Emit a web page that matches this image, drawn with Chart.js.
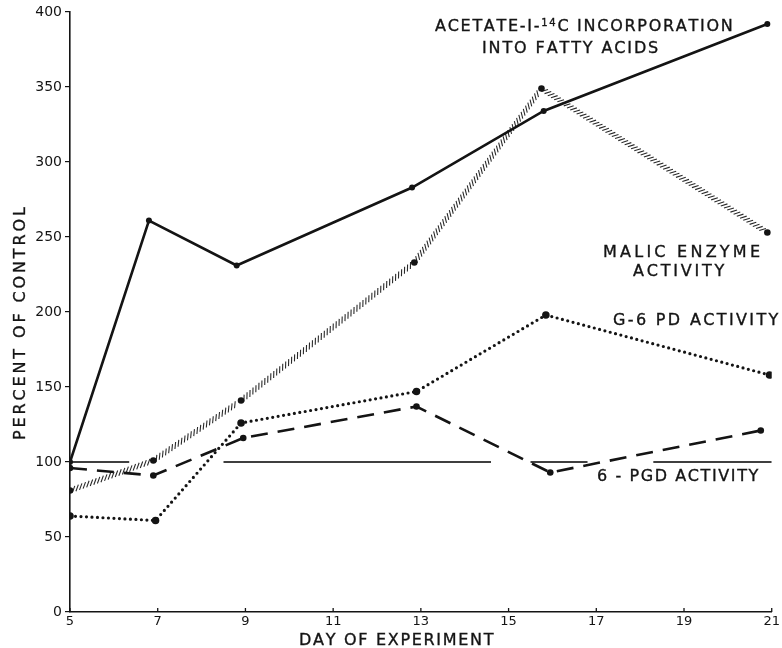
<!DOCTYPE html>
<html>
<head>
<meta charset="utf-8">
<script src="https://cdn.jsdelivr.net/npm/chart.js@4/dist/chart.umd.min.js"></script>
<style>
  html, body { margin: 0; padding: 0; background: #fff; }
  #wrap { width: 782px; height: 648px; }
</style>
</head>
<body>
<div id="wrap"><canvas id="chart" width="782" height="648"></canvas></div>
<script>
// Axis ticks
const dayTicks = [5, 7, 9, 11, 13, 15, 17, 19, 21];
const percentTicks = [0, 50, 100, 150, 200, 250, 300, 350, 400];

// Acetate-1-14C incorporation into fatty acids (solid line)
const acetateDays = [5, 6.8, 8.8, 12.8, 15.8, 20.9];
const acetateValues = [100, 261, 231, 283, 334, 392];

// Malic enzyme activity (hatched line)
const malicDays = [5, 6.9, 8.9, 12.85, 15.75, 20.9];
const malicValues = [81, 101, 141, 233, 349, 253];

// G-6 PD activity (dotted line)
const g6pdDays = [5, 6.95, 8.9, 12.9, 15.85, 20.95];
const g6pdValues = [64, 61, 126, 147, 198, 158];

// 6-PGD activity (dashed line)
const pgdDays = [5, 6.9, 8.95, 12.9, 15.95, 20.75];
const pgdValues = [96, 91, 116, 137, 93, 121];

// Control level (100 %), drawn as a broken reference line
const controlLevel = 100;
const controlStarts = [5, 8.5, 15.5, 18.3];
const controlEnds = [6.35, 14.6, 16.8, 21];

const FONT = '"DejaVu Sans", "Liberation Sans", sans-serif';
const INK = '#141414';

function pairs(xs, ys) {
  return xs.map((x, i) => ({ x: x, y: ys[i] }));
}

function controlPoints() {
  const pts = [];
  controlStarts.forEach((s, i) => {
    pts.push({ x: s, y: controlLevel });
    pts.push({ x: controlEnds[i], y: controlLevel });
    if (i < controlStarts.length - 1) pts.push({ x: (controlEnds[i] + controlStarts[i + 1]) / 2, y: null });
  });
  return pts;
}

// Draws a run of text pieces spread evenly between two x positions
function spreadText(ctx, pieces, left, right, baseline) {
  let natural = 0, count = 0;
  pieces.forEach(p => {
    ctx.font = p.size + 'px ' + FONT;
    natural += ctx.measureText(p.text).width;
    count += p.text.length;
  });
  const gap = count > 1 ? (right - left - natural) / (count - 1) : 0;
  let x = left;
  pieces.forEach(p => {
    ctx.font = p.size + 'px ' + FONT;
    for (const ch of p.text) {
      const y = baseline - (p.rise || 0);
      ctx.fillText(ch, x, y);
      ctx.strokeText(ch, x, y);
      x += ctx.measureText(ch).width + gap;
    }
  });
}

// Hatched stroke for the malic enzyme series
const hatchPlugin = {
  id: 'hatchLine',
  beforeDatasetsDraw(chart) {
    const pts = chart.getDatasetMeta(1).data;
    const ctx = chart.ctx;
    ctx.save();
    ctx.strokeStyle = '#2a2a2a';
    ctx.lineWidth = 1.1;
    ctx.lineCap = 'butt';
    const spacing = 3.8, len = 7, tilt = -50 * Math.PI / 180;
    for (let i = 0; i < pts.length - 1; i++) {
      const a = pts[i], b = pts[i + 1];
      const dx = b.x - a.x, dy = b.y - a.y;
      const L = Math.hypot(dx, dy);
      const ux = dx / L, uy = dy / L;
      const cx = Math.cos(tilt), sx = Math.sin(tilt);
      const vx = ux * cx - uy * sx, vy = ux * sx + uy * cx;
      const n = Math.floor(L / spacing);
      ctx.beginPath();
      for (let k = 1; k < n; k++) {
        const px = a.x + ux * k * spacing, py = a.y + uy * k * spacing;
        ctx.moveTo(px - vx * len / 2, py - vy * len / 2);
        ctx.lineTo(px + vx * len / 2, py + vy * len / 2);
      }
      ctx.stroke();
    }
    ctx.restore();
  }
};

// Inward tick marks on the day axis and all annotation lettering
const lettering = {
  id: 'lettering',
  afterDraw(chart) {
    const ctx = chart.ctx;
    const xs = chart.scales.x;
    const area = chart.chartArea;
    ctx.save();
    ctx.strokeStyle = INK;
    ctx.lineWidth = 1.3;
    ctx.beginPath();
    dayTicks.forEach(d => {
      const px = xs.getPixelForValue(d);
      ctx.moveTo(px, area.bottom);
      ctx.lineTo(px, area.bottom - 4);
    });
    ctx.stroke();

    ctx.fillStyle = INK;
    ctx.strokeStyle = INK;
    ctx.lineWidth = 0.35;
    ctx.textBaseline = 'alphabetic';
    ctx.textAlign = 'left';
    const S = 16;
    spreadText(ctx, [
      { text: 'ACETATE-I-', size: S },
      { text: '14', size: 10, rise: 5 },
      { text: 'C INCORPORATION', size: S }
    ], 435, 728, 31);
    spreadText(ctx, [{ text: 'INTO FATTY ACIDS', size: S }], 482, 655, 53);
    spreadText(ctx, [{ text: 'MALIC ENZYME', size: S }], 603, 760, 257);
    spreadText(ctx, [{ text: 'ACTIVITY', size: S }], 633, 724, 276);
    spreadText(ctx, [{ text: 'G-6 PD ACTIVITY', size: S }], 613, 778, 325);
    spreadText(ctx, [{ text: '6 - PGD ACTIVITY', size: S }], 597, 758, 481);
    spreadText(ctx, [{ text: 'DAY OF EXPERIMENT', size: S }], 299, 492, 645);

    ctx.translate(25, 440);
    ctx.rotate(-Math.PI / 2);
    spreadText(ctx, [{ text: 'PERCENT OF CONTROL', size: S }], 0, 232, 0);
    ctx.restore();
  }
};

new Chart(document.getElementById('chart'), {
  type: 'line',
  data: {
    datasets: [
      {
        label: 'Acetate-1-14C incorporation into fatty acids',
        data: pairs(acetateDays, acetateValues),
        borderColor: INK, backgroundColor: INK,
        borderWidth: 2.6, pointRadius: 3, pointBorderWidth: 0,
        order: 0
      },
      {
        label: 'Malic enzyme activity',
        data: pairs(malicDays, malicValues),
        showLine: false,
        borderColor: INK, backgroundColor: INK,
        pointRadius: 3.3, pointBorderWidth: 0,
        order: 1
      },
      {
        label: 'G-6 PD activity',
        data: pairs(g6pdDays, g6pdValues),
        borderColor: INK, backgroundColor: INK,
        borderWidth: 3.2, borderDash: [0, 5.5], borderCapStyle: 'round',
        pointRadius: 3.8, pointBorderWidth: 0,
        order: 2
      },
      {
        label: '6-PGD activity',
        data: pairs(pgdDays, pgdValues),
        borderColor: INK, backgroundColor: INK,
        borderWidth: 2.6, borderDash: [17, 10],
        pointRadius: 3.3, pointBorderWidth: 0,
        order: 3
      },
      {
        label: 'Control',
        data: controlPoints(),
        borderColor: '#000', borderWidth: 1.4,
        pointRadius: 0, spanGaps: false,
        order: 4
      }
    ]
  },
  options: {
    responsive: false,
    animation: false,
    devicePixelRatio: 1,
    layout: { padding: { top: 12, right: 8, left: 0, bottom: 0 } },
    plugins: { legend: { display: false }, tooltip: { enabled: false } },
    elements: { line: { tension: 0 } },
    scales: {
      x: {
        type: 'linear', min: 5, max: 21,
        afterFit(s) { s.height = 36; },
        afterBuildTicks(s) { s.ticks = dayTicks.map(v => ({ value: v })); },
        grid: { display: true, drawOnChartArea: false, drawTicks: false, color: INK },
        border: { display: true, color: INK, width: 1.6 },
        ticks: { color: INK, padding: 2, font: { family: FONT, size: 13 }, maxRotation: 0, autoSkip: false }
      },
      y: {
        type: 'linear', min: 0, max: 400,
        afterFit(s) { s.width = 70; },
        afterBuildTicks(s) { s.ticks = percentTicks.map(v => ({ value: v })); },
        grid: { display: true, drawOnChartArea: false, drawTicks: true, tickLength: 5, color: INK, lineWidth: 1.2 },
        border: { display: true, color: INK, width: 1.6 },
        ticks: { color: INK, padding: 3, font: { family: FONT, size: 14 } }
      }
    }
  },
  plugins: [hatchPlugin, lettering]
});
</script>
</body>
</html>
